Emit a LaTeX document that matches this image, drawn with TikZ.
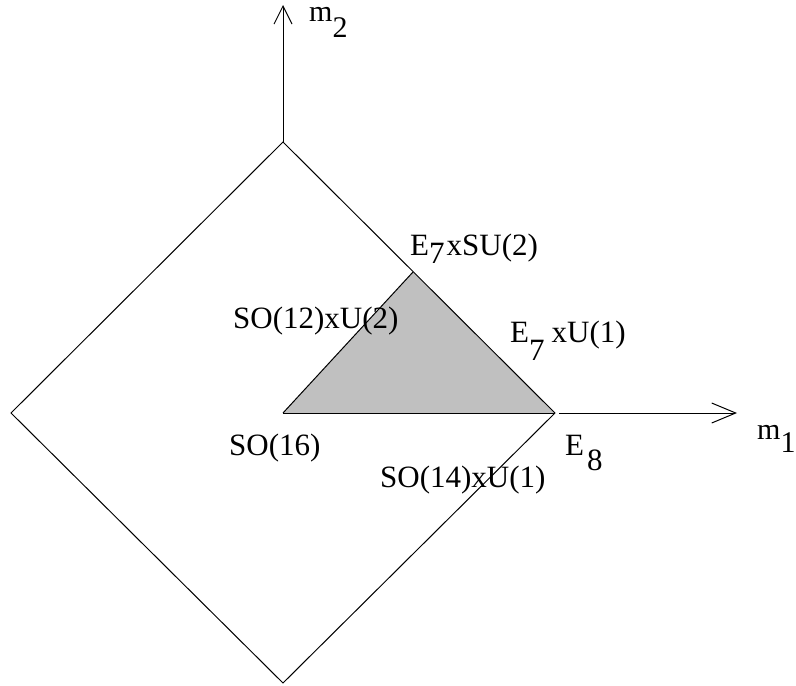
\documentclass[tikz,border=0pt]{standalone}
\usepackage{fontspec}
\setmainfont{Liberation Serif}
\usetikzlibrary{arrows.meta}
\definecolor{trigray}{RGB}{192,192,192}
\begin{document}
\begin{tikzpicture}[x=1pt,y=-1pt,
  lbl/.style={inner sep=0pt, anchor=base west, font=\fontsize{31}{36}\selectfont},
  axlbl/.style={inner sep=0pt, anchor=base west, text height=14pt, font=\fontsize{30}{34}\selectfont},
  edge/.style={line width=1pt, black}]
\useasboundingbox (0,0) rectangle (796,686);
\coordinate (T) at (283,142);
\coordinate (R) at (555,413);
\coordinate (B) at (283,683);
\coordinate (L) at (11,413);
\coordinate (O) at (283,413);
\coordinate (A) at (413,272);
\coordinate (Ytip) at (283,5);
\coordinate (Xs) at (559,413);
\coordinate (Xtip) at (737,413);
\fill[trigray] (O) -- (R) -- (A) -- cycle;
\draw[edge] (T) -- (R) -- (B) -- (L) -- cycle;
\draw[edge] (O) -- (A);
\draw[edge] (O) -- (R);
\draw[edge, -{Straight Barb[length=18pt,width=18pt]}] (T) -- (Ytip);
\draw[edge, -{Straight Barb[length=24pt,width=20pt]}] (Xs) -- (Xtip);
\node[axlbl] (m2) at (309,21) {m\raisebox{-16pt}{2}};
\node[axlbl] (m1) at (757,439) {m\raisebox{-13pt}{1}};
\node[lbl] (e7su2) at (410,255) {E\raisebox{-8pt}{7}\hspace{2pt}xSU(2)};
\node[lbl] (so12) at (233,328) {SO(12)xU(2)};
\node[lbl] (e7u1) at (510,342) {E\raisebox{-18pt}{7}\hspace{7pt}xU(1)};
\node[lbl] (so16) at (229,455) {SO(16)};
\node[lbl] (e8) at (565,455) {E\hspace{3pt}\raisebox{-15pt}{8}};
\node[lbl] (so14) at (380,487) {SO(14)xU(1)};
\end{tikzpicture}
\end{document}
